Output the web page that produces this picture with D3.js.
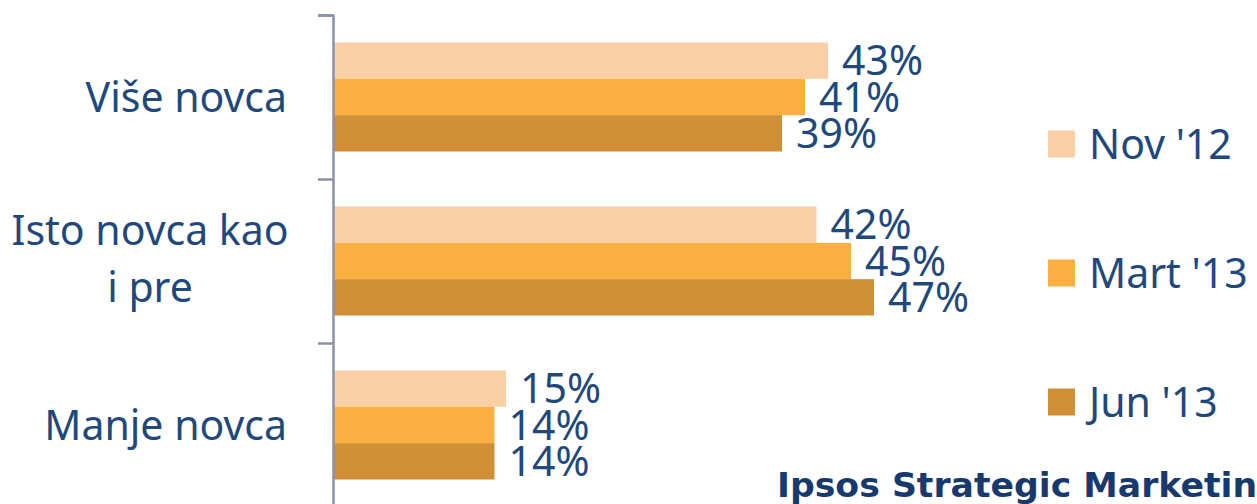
<!DOCTYPE html>
<html>
<head>
<meta charset="utf-8">
<script src="https://cdn.jsdelivr.net/npm/d3@7"></script>
<style>
  body { margin: 0; background: #fff; }
  svg { display: block; }
</style>
</head>
<body>
<div id="chart"></div>
<script>
"use strict"

/* Data */
const categories = ["Više novca", "Isto novca kao\ni pre", "Manje novca"];
const seriesNames = ["Nov '12", "Mart '13", "Jun '13"];
const nov12 = [43, 42, 15];
const mart13 = [41, 45, 14];
const jun13 = [39, 47, 14];
const seriesValues = [nov12, mart13, jun13];
const seriesColors = ["#facfa6", "#fcaf41", "#d08f35"];

const W = 1257, H = 504;
const textBlue = "#1f497d";
const font = "'Noto Sans', 'Open Sans', sans-serif";

let drawing = d3.select("#chart")
    .append("svg")
    .attr("width", W)
    .attr("height", H);

/* Scales */
let y = d3.scaleBand()
    .domain(d3.range(categories.length))
    .range([15, 507])
    .padding(0);

let ySub = d3.scaleBand()
    .domain(d3.range(seriesNames.length))
    .range([27.5, y.bandwidth() - 27.5])
    .padding(0);

let x = d3.scaleLinear()
    .domain([0, 50])
    .range([333.5, 333.5 + 575]);

/* Bars + value labels */
let groups = drawing.selectAll("g.cat")
    .data(categories)
    .join("g")
    .attr("class", "cat")
    .attr("transform", (d, i) => `translate(0, ${y(i)})`);

groups.each(function (c, ci) {
    let g = d3.select(this);
    seriesValues.forEach((vals, si) => {
        g.append("rect")
            .attr("x", x(0))
            .attr("y", ySub(si))
            .attr("width", x(vals[ci]) - x(0))
            .attr("height", ySub.bandwidth())
            .attr("fill", seriesColors[si]);

        g.append("text")
            .attr("x", x(vals[ci]) + 14)
            .attr("y", ySub(si) + ySub.bandwidth() / 2)
            .attr("dy", "0.36em")
            .attr("font-family", font)
            .attr("font-size", 41)
            .attr("fill", textBlue)
            .text(vals[ci] + "%");
    });
});

/* Axis with outward ticks */
let axis = d3.axisLeft(d3.scaleLinear().domain([0, 3]).range([15, 507]))
    .ticks(3)
    .tickSize(15)
    .tickSizeOuter(15)
    .tickFormat("");

let axisG = drawing.append("g")
    .attr("transform", `translate(${x(0) - 0.5}, 0)`)
    .call(axis);
axisG.selectAll("path, line")
    .attr("stroke", "#8a92aa")
    .attr("stroke-width", 2.5);

/* Category labels */
categories.forEach((c, i) => {
    let lines = c.split("\n");
    let cy = y(i) + y.bandwidth() / 2;
    if (lines.length === 1) {
        drawing.append("text")
            .attr("x", 287)
            .attr("y", cy)
            .attr("dy", "0.36em")
            .attr("text-anchor", "end")
            .attr("font-family", font)
            .attr("font-size", 41)
            .attr("fill", textBlue)
            .text(c);
    } else {
        let t = drawing.append("text")
            .attr("text-anchor", "middle")
            .attr("font-family", font)
            .attr("font-size", 41)
            .attr("fill", textBlue);
        lines.forEach((l, li) => {
            t.append("tspan")
                .attr("x", 150)
                .attr("y", cy - 16 + li * 57)
                .text(l);
        });
    }
});

/* Legend */
let legendY = d3.scalePoint()
    .domain(seriesNames)
    .range([144, 402]);

seriesNames.forEach((s, i) => {
    drawing.append("rect")
        .attr("x", 1048)
        .attr("y", legendY(s) - 13.5)
        .attr("width", 27)
        .attr("height", 27)
        .attr("fill", seriesColors[i]);

    drawing.append("text")
        .attr("x", 1089)
        .attr("y", legendY(s))
        .attr("dy", "0.36em")
        .attr("font-family", font)
        .attr("font-size", 41)
        .attr("fill", textBlue)
        .text(s);
});

/* Watermark, cut off at the right edge */
drawing.append("text")
    .attr("x", 777)
    .attr("y", 497)
    .attr("font-family", "'DejaVu Sans', sans-serif")
    .attr("font-weight", "bold")
    .attr("font-size", 34)
    .attr("textLength", 505)
    .attr("lengthAdjust", "spacingAndGlyphs")
    .attr("fill", "#173a6e")
    .text("Ipsos Strategic Marketing");
</script>
</body>
</html>
